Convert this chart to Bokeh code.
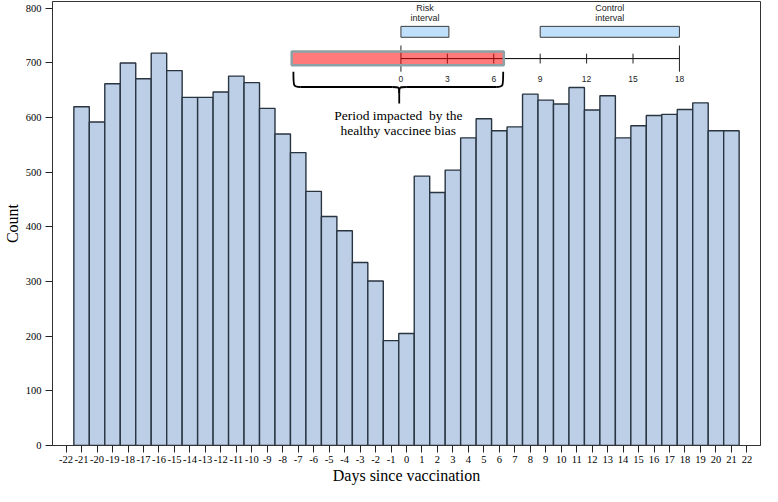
from bokeh.plotting import figure
from bokeh.models import Range1d, FixedTicker
from bokeh.core.properties import value
from bokeh.embed import file_html
from bokeh.resources import INLINE

# ---- data ----
days = list(range(-21, 22))
counts = [620, 592, 662, 700, 671, 718, 686, 637, 637, 647, 676, 664, 617, 570,
          536, 465, 419, 393, 335, 301, 192,
          205,
          493, 463, 504, 563, 598, 576, 583, 643, 632, 625, 655, 614, 640, 563,
          585, 604, 606, 615, 627, 576, 576]
x_ticks = list(range(-22, 23))
y_ticks = [0, 100, 200, 300, 400, 500, 600, 700, 800]

inset_ticks = [0, 3, 6, 9, 12, 15, 18]
risk_interval = [0, 3.1]
control_interval = [9, 18]
impacted_period = [-7.06, 6.65]
interval_names = ["Risk", "Control"]
annotation_lines = ["Period impacted\u00a0 by the", "healthy vaccinee bias"]

# ---- layout constants ----
SERIF = "Liberation Serif"
SANS = "Liberation Sans"
inset_x0 = -0.36          # where inset day 0 sits on the main axis
inset_y = 708             # inset axis level
bar_fill = "#bccfe7"
bar_line = "#283440"

p = figure(width=762, height=486, output_backend="svg", toolbar_location=None,
           x_range=Range1d(-22.88, 22.88), y_range=Range1d(0, 812.5),
           min_border_left=0, min_border_right=2, min_border_top=1, min_border_bottom=0)

p.quad(left=[d - 0.5 for d in days], right=[d + 0.5 for d in days],
       bottom=[0] * len(days), top=counts,
       fill_color=bar_fill, line_color=bar_line, line_width=1.4)

# ---- inset timeline ----
ix = lambda t: inset_x0 + t
p.segment(x0=[ix(inset_ticks[0])], y0=[inset_y], x1=[ix(inset_ticks[-1])], y1=[inset_y],
          line_color="black", line_width=1)
long_t = [inset_ticks[0], inset_ticks[-1]]
short_t = inset_ticks[1:-1]
p.segment(x0=[ix(t) for t in long_t], x1=[ix(t) for t in long_t],
          y0=[inset_y - 24] * 2, y1=[inset_y + 24] * 2, line_color="#222", line_width=1)
p.segment(x0=[ix(t) for t in short_t], x1=[ix(t) for t in short_t],
          y0=[inset_y - 9] * len(short_t), y1=[inset_y + 9] * len(short_t),
          line_color="#222", line_width=1)
p.text(x=[ix(t) for t in inset_ticks], y=[inset_y - 38] * len(inset_ticks),
       text=[str(t) for t in inset_ticks], text_font=value(SANS), text_font_size="8.5px",
       text_color="#222", text_align="center", text_baseline="middle")

# red period box
p.quad(left=[ix(impacted_period[0])], right=[ix(impacted_period[1])],
       bottom=[inset_y - 12], top=[inset_y + 13],
       fill_color="#ff0000", fill_alpha=0.52, line_color="#8ca2a7", line_width=2.5)

# interval boxes
for iv in (risk_interval, control_interval):
    p.quad(left=[ix(iv[0])], right=[ix(iv[1])], bottom=[inset_y + 39], top=[inset_y + 59],
           fill_color="#bfdffa", line_color="#3a3a3a", line_width=1)
centers = [ix((risk_interval[0] + risk_interval[1]) / 2), ix((control_interval[0] + control_interval[1]) / 2)]
p.text(x=centers, y=[inset_y + 92] * 2, text=interval_names, text_font=value(SANS),
       text_font_size="9px", text_color="#222", text_align="center", text_baseline="middle")
p.text(x=centers, y=[inset_y + 75] * 2, text=["interval"] * 2, text_font=value(SANS),
       text_font_size="9px", text_color="#222", text_align="center", text_baseline="middle")

# curly brace
xL, xR, xc = -7.31, 6.25, -0.47
yTop, yH, yTip = 684, 656, 626
bx = 0.45
p.bezier(x0=[xL, xR, xc - bx, xc + bx], y0=[yTop, yTop, yH, yH],
         x1=[xL + bx, xR - bx, xc, xc], y1=[yH, yH, yH - 12, yH - 12],
         cx0=[xL, xR, xc, xc], cy0=[yH, yH, yH, yH],
         cx1=[xL, xR, xc, xc], cy1=[yH, yH, yH, yH],
         line_color="black", line_width=1.8)
p.segment(x0=[xL + bx, xc + bx, xc], y0=[yH, yH, yH - 12],
          x1=[xc - bx, xR - bx, xc], y1=[yH, yH, yTip],
          line_color="black", line_width=1.8)
p.text(x=[xc - 0.06] * 2, y=[604, 577], text=annotation_lines, text_font=value(SERIF),
       text_font_size="13.5px", text_color="black", text_align="center", text_baseline="middle")

# ---- axes ----
p.grid.visible = False
p.outline_line_color = "#333"
p.outline_line_width = 1
p.xaxis.ticker = FixedTicker(ticks=x_ticks)
p.yaxis.ticker = FixedTicker(ticks=y_ticks)
p.xaxis.major_label_overrides = {t: str(t) for t in x_ticks}
for ax in (p.xaxis, p.yaxis):
    ax.major_tick_out = 7
    ax.major_tick_in = 0
    ax.minor_tick_line_color = None
    ax.major_tick_line_color = "#222"
    ax.axis_line_color = "#333"
    ax.major_label_text_font = SERIF
    ax.major_label_text_font_size = "10.5px"
    ax.major_label_text_color = "black"
    ax.axis_label_text_font = SERIF
    ax.axis_label_text_font_size = "16px"
    ax.axis_label_text_font_style = "normal"
    ax.axis_label_text_color = "black"
p.xaxis.major_label_standoff = 3
p.xaxis.axis_label_standoff = 1
p.yaxis.major_label_standoff = 4
p.yaxis.axis_label_standoff = 2
p.xaxis.axis_label = "Days since vaccination"
p.yaxis.axis_label = "Count"

open("out.html", "w").write(file_html(p, INLINE))
